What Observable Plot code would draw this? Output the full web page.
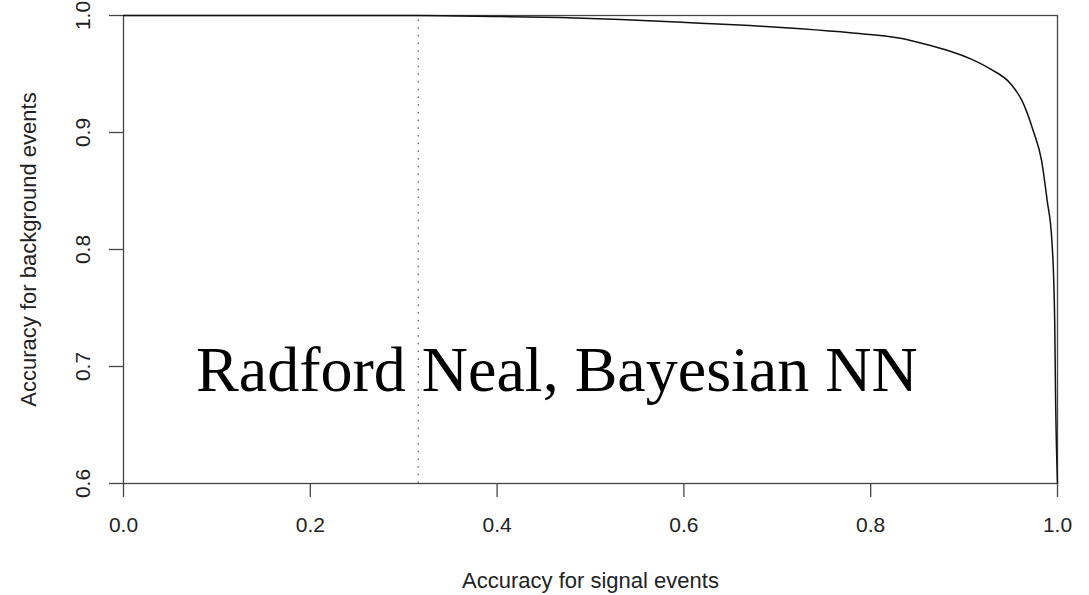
<!DOCTYPE html>
<html>
<head>
<meta charset="utf-8">
<script src="https://cdn.jsdelivr.net/npm/d3@7"></script>
<script src="https://cdn.jsdelivr.net/npm/@observablehq/plot@0.6"></script>
<style>
  html, body { margin: 0; padding: 0; background: #fff; }
  #chart svg { display: block; }
</style>
</head>
<body>
<div id="chart"></div>
<script>
// ROC-style curve: accuracy for signal (x) vs accuracy for background (y)
const signalAcc = [0, 0.315, 0.404, 0.468, 0.532, 0.618, 0.671, 0.725, 0.778, 0.832, 0.864, 0.885, 0.907, 0.928, 0.950, 0.962, 0.974, 0.983, 0.989, 0.994, 0.996, 0.997, 0.998, 1.0];
const backgroundAcc = [1.0, 1.0, 0.9991, 0.9983, 0.9966, 0.9934, 0.9914, 0.9886, 0.9852, 0.9805, 0.9743, 0.9694, 0.9629, 0.9543, 0.9415, 0.9272, 0.9015, 0.8758, 0.8415, 0.8073, 0.7730, 0.7388, 0.6702, 0.6];

const xTicks = [0, 0.2, 0.4, 0.6, 0.8, 1.0];
const yTicks = [0.6, 0.7, 0.8, 0.9, 1.0];
const xTitle = ["Accuracy for signal events"];
const yTitle = ["Accuracy for background events"];
const cutX = [0.3155];
const refY = [1.0];
const annotationText = ["Radford Neal, Bayesian NN"];
const annotationX = [0.464];
const annotationY = [0.679];

const curve = signalAcc.map((x, i) => ({x, y: backgroundAcc[i]}));
const fmt = d3.format(".1f");
const sans = "'Liberation Sans', Arial, Helvetica, sans-serif";
const axisColor = "#444";

const chart = Plot.plot({
  width: 1089,
  height: 595,
  marginLeft: 123,
  marginRight: 32,
  marginTop: 15,
  marginBottom: 112,
  style: {background: "#fff", fontFamily: sans, color: "#222"},
  x: {domain: [0, 1]},
  y: {domain: [0.6, 1.0]},
  marks: [
    Plot.ruleX(cutX, {y1: 0.6, y2: 1.0, stroke: "#333", strokeDasharray: "1.5,6.2", strokeWidth: 1}),
    Plot.ruleY(refY, {stroke: "#333", strokeDasharray: "1.5,6.2", strokeWidth: 1}),
    Plot.frame({stroke: axisColor, strokeWidth: 1.3}),
    Plot.line(curve, {x: "x", y: "y", stroke: "#111", strokeWidth: 1.5, curve: "monotone-x"}),
    Plot.axisX(xTicks, {tickSize: 14, tickPadding: 20, tickFormat: fmt, fontSize: 21, stroke: axisColor, strokeWidth: 1.3, fill: "#222", label: null}),
    Plot.axisY(yTicks, {tickSize: 14, tickFormat: () => "", stroke: axisColor, strokeWidth: 1.3, label: null}),
    Plot.text(yTicks, {y: d => d, frameAnchor: "left", dx: -40, rotate: -90, text: d => fmt(d), fontSize: 21, fill: "#222", textAnchor: "middle", lineAnchor: "middle"}),
    Plot.text(xTitle, {frameAnchor: "bottom", dy: 97, text: d => d, fontSize: 22, fill: "#222", textAnchor: "middle", lineAnchor: "middle"}),
    Plot.text(yTitle, {frameAnchor: "left", dx: -95, rotate: -90, text: d => d, fontSize: 22, fill: "#222", textAnchor: "middle", lineAnchor: "middle"}),
    Plot.text(annotationText, {x: (d, i) => annotationX[i], y: (d, i) => annotationY[i], text: d => d, fontSize: 64, fontFamily: "'Liberation Serif', 'Times New Roman', serif", fill: "#000", lineAnchor: "bottom", textAnchor: "middle"})
  ]
});
document.getElementById("chart").appendChild(chart);
</script>
</body>
</html>
